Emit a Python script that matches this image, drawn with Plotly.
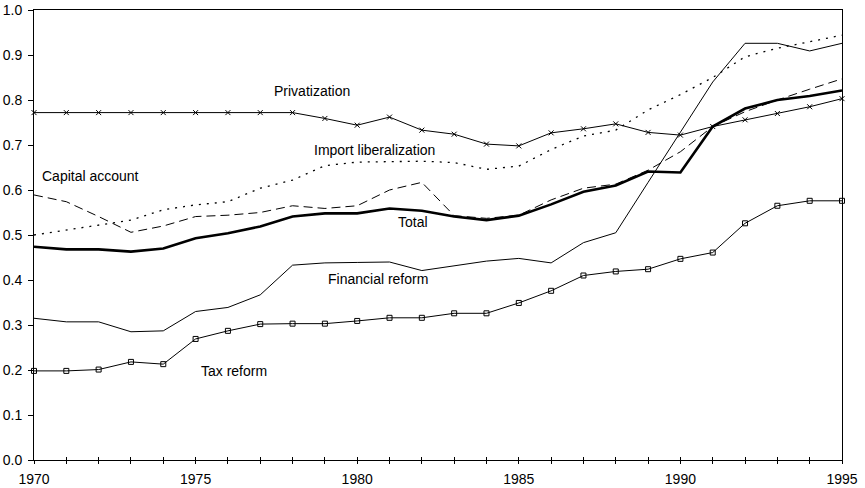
import plotly.graph_objects as go

years = list(range(1970, 1996))

privatization = [0.772, 0.772, 0.772, 0.772, 0.772, 0.772, 0.772, 0.772, 0.772, 0.759,
                 0.744, 0.762, 0.733, 0.724, 0.702, 0.698, 0.727, 0.736, 0.747, 0.728,
                 0.722, 0.741, 0.756, 0.770, 0.785, 0.803]
import_lib = [0.500, 0.511, 0.522, 0.533, 0.556, 0.567, 0.574, 0.604, 0.622, 0.654,
              0.662, 0.663, 0.664, 0.661, 0.646, 0.653, 0.690, 0.720, 0.733, 0.778,
              0.812, 0.850, 0.896, 0.915, 0.930, 0.944]
capital = [0.589, 0.574, 0.541, 0.506, 0.520, 0.541, 0.544, 0.550, 0.565, 0.559,
           0.565, 0.600, 0.617, 0.543, 0.537, 0.544, 0.578, 0.604, 0.613, 0.644,
           0.685, 0.741, 0.774, 0.800, 0.824, 0.847]
total = [0.474, 0.468, 0.468, 0.463, 0.470, 0.493, 0.504, 0.519, 0.541, 0.548,
         0.548, 0.559, 0.554, 0.541, 0.533, 0.543, 0.568, 0.596, 0.610, 0.641,
         0.639, 0.741, 0.781, 0.800, 0.809, 0.821]
financial = [0.315, 0.307, 0.307, 0.285, 0.287, 0.330, 0.339, 0.367, 0.433, 0.438,
             0.439, 0.440, 0.421, 0.431, 0.442, 0.448, 0.438, 0.483, 0.505, 0.617,
             0.728, 0.840, 0.926, 0.926, 0.909, 0.926]
tax = [0.198, 0.198, 0.201, 0.218, 0.213, 0.269, 0.287, 0.302, 0.303, 0.303,
       0.309, 0.316, 0.316, 0.326, 0.326, 0.349, 0.376, 0.410, 0.419, 0.424,
       0.447, 0.461, 0.526, 0.565, 0.576, 0.576]

labels = [
    ("Privatization", 1978.6, 0.819),
    ("Import liberalization", 1980.52, 0.689),
    ("Capital account", 1971.75, 0.631),
    ("Total", 1981.74, 0.529),
    ("Financial reform", 1980.64, 0.402),
    ("Tax reform", 1976.2, 0.198),
]

FONT = "Liberation Sans, Arial, sans-serif"

fig = go.Figure()
fig.add_trace(go.Scatter(x=years, y=financial, mode="lines",
                         line=dict(color="black", width=1), cliponaxis=False))
fig.add_trace(go.Scatter(x=years, y=tax, mode="lines+markers",
                         line=dict(color="black", width=1),
                         marker=dict(symbol="square-open", size=5, color="black",
                                     line=dict(width=1, color="black")),
                         cliponaxis=False))
fig.add_trace(go.Scatter(x=years, y=import_lib, mode="lines",
                         line=dict(color="black", width=1.3, dash="2px,6px"),
                         cliponaxis=False))
fig.add_trace(go.Scatter(x=years, y=capital, mode="lines",
                         line=dict(color="black", width=1, dash="9px,5px"),
                         cliponaxis=False))
fig.add_trace(go.Scatter(x=years, y=privatization, mode="lines+markers",
                         line=dict(color="black", width=1),
                         marker=dict(symbol="x-thin", size=5, color="black",
                                     line=dict(width=1, color="black")),
                         cliponaxis=False))
fig.add_trace(go.Scatter(x=years, y=total, mode="lines",
                         line=dict(color="black", width=2.6), cliponaxis=False))
# invisible trace on the overlay axis carrying the inner half of the crossing ticks
fig.add_trace(go.Scatter(x=[years[0]], y=[total[0]], xaxis="x2", mode="markers",
                         marker=dict(opacity=0), hoverinfo="skip", showlegend=False))

for text, x, y in labels:
    fig.add_annotation(x=x, y=y, text=text, showarrow=False,
                       font=dict(family=FONT, size=14, color="black"))

fig.update_layout(
    width=865, height=488,
    margin=dict(l=34, r=23, t=10, b=28),
    paper_bgcolor="white", plot_bgcolor="white",
    showlegend=False,
    font=dict(family=FONT, size=14, color="black"),
    xaxis=dict(range=[1970, 1995], tickmode="linear", tick0=1970, dtick=5,
               automargin=False,
               showgrid=False, zeroline=False, showline=True, linecolor="black",
               linewidth=1, mirror=True, ticks="outside", ticklen=3,
               tickcolor="black", tickwidth=1, ticklabelstandoff=3,
               minor=dict(dtick=1, ticks="outside", ticklen=3, tickcolor="black",
                          showgrid=False),
               tickfont=dict(family=FONT, size=14)),
    xaxis2=dict(range=[1970, 1995], overlaying="x", side="bottom",
                automargin=False,
                tickmode="linear", tick0=1970, dtick=1, showgrid=False,
                zeroline=False, showline=False, ticks="inside", ticklen=3,
                tickcolor="black", tickwidth=1, showticklabels=False),
    yaxis=dict(range=[0, 1], tickmode="linear", tick0=0, dtick=0.1,
               automargin=False,
               tickformat=".1f", showgrid=False, zeroline=False, showline=True,
               linecolor="black", linewidth=1, mirror=True, ticks="outside",
               ticklen=5, tickcolor="black", tickwidth=1, ticklabelstandoff=3,
               tickfont=dict(family=FONT, size=14)),
)

# remove the browser's default 8px body margin so the figure fills the window
fig.write_html("out.html", config={"displayModeBar": False},
               post_script="document.body.style.margin='0px';")
